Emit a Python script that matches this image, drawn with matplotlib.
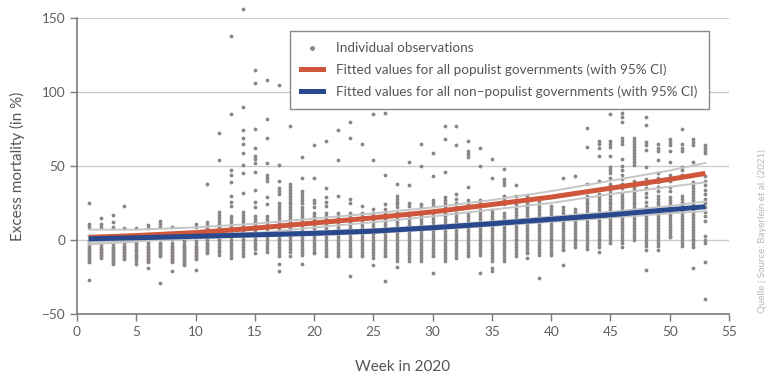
import numpy as np
import matplotlib
matplotlib.use("Agg")
import matplotlib.pyplot as plt
from matplotlib.lines import Line2D

plt.rcParams['font.family'] = ['Lato', 'DejaVu Sans']

# individual observations, one list per week (week 1 .. 53), excess mortality in %
obs = [
    [25, 11, 9, 3, 0, -2, -4, -6, -7, -8, -9, -10, -11, -12, -13, -14, -15, -27],
    [15, 11, 9, 2, -1, -3, -5, -6, -7, -8, -9, -10, -11, -12],
    [17, 12, 9, 2, -1, -3, -5, -6, -7, -8, -9, -10, -11, -12, -13, -14, -15, -16],
    [23, 8, 1, -2, -4, -5, -6, -7, -8, -9, -10, -11, -12, -13],
    [8, 1, -2, -3, -5, -6, -7, -8, -10, -11, -12, -14, -16],
    [10, 8, 1, -2, -4, -5, -6, -7, -8, -9, -10, -11, -12, -13, -14, -15, -19],
    [13, 11, 9, 1, -2, -3, -4, -5, -6, -7, -8, -9, -10, -11, -29],
    [9, 1, -2, -4, -5, -6, -7, -8, -9, -10, -11, -12, -13, -14, -15, -21],
    [5, 1, -1, -3, -4, -5, -6, -7, -8, -9, -10, -11, -12, -13, -14, -15, -16, -17],
    [11, 9, 2, -1, -2, -4, -5, -6, -7, -8, -9, -10, -11, -12, -13, -20],
    [38, 12, 10, 8, 6, 4, 2, 0, -2, -3, -4, -5, -6, -7, -8, -9],
    [72, 54, 19, 17, 15, 13, 11, 9, 7, 5, 3, 1, -1, -3, -5, -7, -8, -10],
    [138, 85, 47, 44, 39, 30, 26, 23, 16, 14, 12, 10, 8, 6, 4, 2, 0, -2, -4, -6, -8, -10, -12],
    [156, 90, 74, 69, 65, 59, 51, 45, 32, 19, 17, 15, 13, 11, 9, 7, 5, 3, 1, -1, -3, -5, -7, -9, -11],
    [115, 106, 75, 62, 57, 55, 52, 46, 34, 26, 22, 16, 14, 12, 10, 8, 6, 4, 2, 0, -2, -4, -6, -9],
    [108, 82, 69, 52, 44, 42, 40, 29, 24, 16, 14, 12, 10, 8, 6, 4, 2, 0, -2, -4, -6, -8],
    [105, 51, 40, 35, 33, 31, 25, 23, 21, 19, 17, 15, 13, 11, 9, 7, 5, 3, 1, -1, -3, -5, -7, -9, -11, -16, -21],
    [77, 38, 36, 34, 32, 30, 28, 26, 24, 22, 20, 18, 16, 14, 12, 10, 8, 6, 4, 2, 0, -2, -4, -6, -8, -11],
    [56, 42, 33, 31, 29, 27, 25, 22, 20, 18, 16, 14, 12, 10, 8, 6, 4, 2, 0, -2, -4, -6, -8, -10, -16],
    [64, 42, 27, 25, 22, 18, 16, 14, 12, 10, 8, 6, 4, 2, 0, -2, -4, -6, -8, -9],
    [67, 35, 29, 26, 23, 18, 16, 14, 12, 10, 8, 6, 4, 2, 0, -2, -4, -6, -8, -10, -11],
    [74, 54, 30, 18, 16, 14, 12, 10, 8, 6, 4, 2, 0, -2, -4, -6, -8, -10, -11],
    [80, 69, 28, 25, 18, 16, 14, 12, 10, 8, 6, 4, 2, 0, -2, -4, -6, -8, -10, -11, -24],
    [65, 23, 18, 16, 14, 12, 10, 8, 6, 4, 2, 0, -2, -4, -6, -8, -10, -11],
    [85, 54, 21, 18, 16, 14, 12, 10, 8, 6, 4, 2, 0, -2, -4, -6, -8, -10, -12, -17],
    [86, 44, 24, 21, 18, 16, 14, 12, 10, 8, 6, 4, 2, 0, -2, -4, -6, -8, -10, -11, -28],
    [90, 38, 30, 28, 26, 24, 22, 18, 16, 14, 12, 10, 8, 6, 4, 2, 0, -2, -4, -6, -8, -10, -12, -14, -18],
    [53, 37, 25, 23, 18, 16, 14, 12, 10, 8, 6, 4, 2, 0, -2, -4, -6, -8, -10, -12, -14],
    [65, 50, 24, 22, 18, 16, 14, 12, 10, 8, 6, 4, 2, 0, -2, -4, -6, -8, -10, -12, -14],
    [59, 43, 27, 25, 23, 18, 16, 14, 12, 10, 8, 6, 4, 2, 0, -2, -4, -6, -8, -10, -11, -22],
    [77, 68, 46, 29, 27, 25, 23, 21, 18, 16, 14, 12, 10, 8, 6, 4, 2, 0, -2, -4, -6, -8, -10, -12, -14],
    [77, 64, 31, 28, 25, 22, 18, 16, 14, 12, 10, 8, 6, 4, 2, 0, -2, -4, -6, -8, -10, -12],
    [67, 60, 58, 56, 36, 27, 24, 18, 16, 14, 12, 10, 8, 6, 4, 2, 0, -2, -4, -6, -8, -10, -11],
    [62, 50, 27, 25, 23, 20, 18, 16, 14, 12, 10, 8, 6, 4, 2, 0, -2, -4, -6, -8, -10, -22],
    [55, 42, 20, 18, 16, 14, 12, 10, 8, 6, 4, 2, 0, -2, -4, -6, -8, -10, -12, -14, -19, -21],
    [48, 41, 39, 37, 30, 27, 24, 18, 16, 14, 12, 10, 8, 6, 4, 2, 0, -2, -4, -6, -8, -10, -12, -14],
    [37, 30, 27, 25, 23, 21, 19, 17, 15, 13, 11, 9, 7, 5, 3, 1, -1, -3, -5, -7, -9, -11],
    [30, 28, 26, 24, 22, 20, 18, 16, 14, 12, 10, 8, 6, 4, 2, 0, -2, -4, -6, -8, -9, -12],
    [28, 26, 24, 22, 20, 18, 16, 14, 12, 10, 8, 6, 4, 2, 0, -2, -4, -6, -8, -10, -26],
    [23, 21, 19, 17, 15, 13, 11, 9, 7, 5, 3, 1, -1, -3, -5, -7, -9, -10],
    [42, 22, 20, 18, 16, 14, 12, 10, 8, 6, 4, 2, 0, -2, -4, -6, -7, -17],
    [43, 21, 19, 17, 15, 13, 11, 9, 7, 5, 3, 1, -1, -3, -5],
    [76, 63, 38, 30, 28, 26, 24, 22, 20, 18, 16, 14, 12, 10, 8, 6, 4, 2, 0, -2, -4, -6],
    [67, 65, 62, 57, 40, 31, 29, 27, 25, 23, 21, 19, 17, 15, 13, 11, 9, 7, 5, 3, 1, -1, -3, -5, -8],
    [85, 67, 65, 63, 57, 49, 47, 45, 42, 38, 36, 34, 32, 30, 28, 26, 24, 22, 20, 18, 16, 14, 12, 10, 8, 6, 4, 2, 0, -2],
    [89, 86, 83, 80, 69, 67, 65, 55, 50, 47, 44, 41, 38, 35, 32, 30, 28, 26, 24, 22, 20, 18, 16, 14, 12, 10, 8, 6, 4, 2, 0, -2, -5],
    [69, 67, 65, 63, 61, 59, 57, 55, 53, 51, 40, 38, 36, 34, 32, 30, 28, 26, 24, 22, 20, 18, 16, 14, 12, 10, 8, 6, 4, 2, 0],
    [83, 78, 66, 64, 61, 49, 41, 38, 35, 32, 29, 26, 23, 20, 18, 16, 14, 12, 10, 8, 6, 4, 2, 0, -2, -4, -7, -20],
    [65, 62, 60, 54, 45, 42, 39, 36, 33, 30, 28, 26, 24, 22, 20, 18, 16, 14, 12, 10, 8, 6, 4, 2, 0, -2, -4, -7],
    [68, 66, 64, 60, 53, 44, 40, 36, 33, 29, 27, 25, 23, 21, 19, 17, 15, 13, 11, 9, 7, 5, 3, 2],
    [75, 65, 62, 60, 49, 47, 44, 30, 28, 26, 24, 22, 20, 18, 16, 14, 12, 10, 8, 6, 4, 2, 0, -2, -4],
    [68, 66, 64, 53, 39, 37, 35, 33, 31, 29, 27, 25, 23, 21, 19, 17, 15, 13, 11, 9, 7, 5, 3, 1, -1, -3, -5, -19],
    [64, 62, 60, 59, 43, 40, 37, 34, 31, 28, 25, 22, 19, 16, 13, 3, 0, -2, -15, -40],
]

# fitted curves
fit_weeks = [1, 5, 10, 15, 20, 25, 30, 35, 40, 45, 50, 53]
pop_fit = [1.7, 3, 5, 8, 11.5, 15, 19, 24, 29, 35, 41, 45]
pop_lo = [-3, -1, 1.5, 4.5, 8.5, 12, 16, 20.5, 25, 31, 36, 39]
pop_hi = [7, 7, 8.5, 11, 14.5, 18, 22, 27, 33, 40, 47, 52]
nonpop_fit = [0.8, 1.5, 2.5, 3.5, 4.5, 6, 8.3, 11, 14, 17, 20.5, 22.5]
nonpop_lo = [-1.5, -0.5, 1, 2.3, 3.3, 4.7, 7, 9.5, 12.3, 15, 18, 19.5]
nonpop_hi = [3, 3.5, 4, 4.8, 5.8, 7.3, 9.6, 12.5, 15.7, 19, 23, 26]

x_ticks = [0, 5, 10, 15, 20, 25, 30, 35, 40, 45, 50, 55]
y_ticks = [-50, 0, 50, 100, 150]

RED = '#cf553b'
BLUE = '#28498d'
DOT = '#8b8585'
CI = '#c6c6c6'
AXC = '#7a7a7a'
TXT = '#555555'

fig = plt.figure(figsize=(7.7, 3.8), dpi=100)
ax = fig.add_axes([0.1, 0.1737, 0.8468, 0.7789])

xs = np.concatenate([np.full(len(v), i + 1) for i, v in enumerate(obs)])
ys = np.concatenate([np.array(v, dtype=float) for v in obs])
ax.scatter(xs, ys, s=7.5, color=DOT, linewidths=0, zorder=2, clip_on=False)

for lo, hi in [(pop_lo, pop_hi), (nonpop_lo, nonpop_hi)]:
    ax.plot(fit_weeks, lo, color=CI, lw=1.4, zorder=3)
    ax.plot(fit_weeks, hi, color=CI, lw=1.4, zorder=3)
ax.plot(fit_weeks, pop_fit, color=RED, lw=3.6, zorder=4, solid_capstyle='butt')
ax.plot(fit_weeks, nonpop_fit, color=BLUE, lw=3.6, zorder=4, solid_capstyle='butt')

ax.set_xlim(0, 55)
ax.set_ylim(-50, 150)
ax.set_xticks(x_ticks)
ax.set_yticks(y_ticks)
for v in [0, 50, 100, 150]:
    ax.axhline(v, color='#cccccc', lw=1, zorder=1)

for s in ['top', 'right']:
    ax.spines[s].set_visible(False)
for s in ['left', 'bottom']:
    ax.spines[s].set_color(AXC)
    ax.spines[s].set_linewidth(1.2)
ax.tick_params(colors=AXC, labelcolor='#606060', labelsize=9.8, length=5, width=1)

ax.set_xlabel('Week in 2020', fontsize=11, color=TXT, labelpad=16)
ax.set_ylabel('Excess mortality (in %)', fontsize=11, color=TXT, labelpad=12)

handles = [
    Line2D([], [], marker='o', ls='none', color=DOT, markersize=2.5),
    Line2D([], [], color=RED, lw=3.6),
    Line2D([], [], color=BLUE, lw=3.6),
]
labels = [
    'Individual observations',
    'Fitted values for all populist governments (with 95% CI)',
    'Fitted values for all non\u2013populist governments (with 95% CI)',
]
leg = ax.legend(handles, labels, loc='upper right', bbox_to_anchor=(0.9208, 0.9184),
                bbox_transform=fig.transFigure, borderaxespad=0, fontsize=9.7,
                frameon=True, fancybox=False, framealpha=1, edgecolor='#888888',
                labelcolor=TXT, handlelength=1.6, handletextpad=1.0,
                borderpad=0.85, labelspacing=0.68)
leg.get_frame().set_linewidth(1)
leg.set_zorder(10)

fig.text(0.9896, 0.395, 'Quelle | Source: Bayerlein et al. (2021).', rotation=90,
         fontsize=7, color='#b8b8b8', ha='center', va='center')

fig.savefig('out.png', dpi=100)
